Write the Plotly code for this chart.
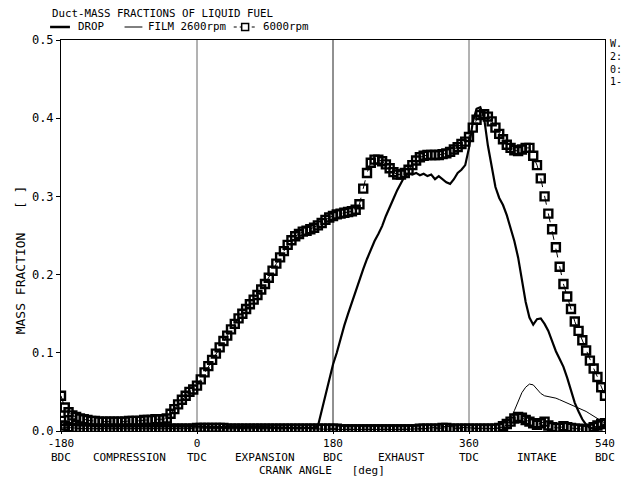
import plotly.graph_objects as go

# ---------------- data ----------------
ANG_5 = list(range(-180, 541, 5))  # 5-degree crank-angle grid used for the 6000 rpm series

DROP_6000 = [
    0.045, 0.030, 0.024, 0.020, 0.018, 0.016, 0.015, 0.014, 0.013, 0.013,
    0.012, 0.012, 0.012, 0.012, 0.012, 0.012, 0.012, 0.012, 0.013, 0.013,
    0.013, 0.013, 0.014, 0.014, 0.014, 0.015, 0.015, 0.015, 0.016, 0.022,
    0.028, 0.034, 0.040, 0.045, 0.050, 0.053, 0.058, 0.066, 0.075, 0.083,
    0.091, 0.099, 0.107, 0.115, 0.122, 0.130, 0.137, 0.144, 0.150, 0.156,
    0.162, 0.168, 0.174, 0.181, 0.188, 0.196, 0.205, 0.214, 0.222, 0.230,
    0.238, 0.244, 0.249, 0.252, 0.255, 0.256, 0.258, 0.260, 0.263, 0.266,
    0.270, 0.273, 0.275, 0.277, 0.278, 0.279, 0.280, 0.281, 0.283, 0.290,
    0.310, 0.330, 0.343, 0.347, 0.347, 0.345, 0.341, 0.336, 0.331, 0.328,
    0.328, 0.330, 0.334, 0.340, 0.346, 0.350, 0.352, 0.353, 0.353, 0.353,
    0.353, 0.354, 0.355, 0.357, 0.360, 0.363, 0.367, 0.370, 0.376, 0.388,
    0.398, 0.404, 0.405, 0.402, 0.396, 0.388, 0.380, 0.373, 0.366, 0.362,
    0.359, 0.358, 0.360, 0.362, 0.362, 0.352, 0.340, 0.323, 0.300, 0.278,
    0.258, 0.235, 0.210, 0.188, 0.172, 0.156, 0.140, 0.128, 0.116, 0.103,
    0.090, 0.080, 0.069, 0.056, 0.045,
]

FILM_6000 = [
    0.013, 0.007, 0.005, 0.004, 0.003, 0.003, 0.003, 0.003, 0.003, 0.003,
    0.003, 0.003, 0.003, 0.003, 0.003, 0.003, 0.003, 0.003, 0.003, 0.003,
    0.003, 0.003, 0.003, 0.003, 0.003, 0.003, 0.003, 0.003, 0.003, 0.003,
    0.003, 0.003, 0.003, 0.003, 0.003, 0.003, 0.004, 0.004, 0.004, 0.004,
    0.004, 0.004, 0.004, 0.004, 0.003, 0.003, 0.003, 0.003, 0.003, 0.003,
    0.003, 0.003, 0.003, 0.003, 0.003, 0.003, 0.003, 0.003, 0.003, 0.003,
    0.003, 0.003, 0.003, 0.003, 0.003, 0.003, 0.003, 0.003, 0.003, 0.003,
    0.003, 0.003, 0.003, 0.003, 0.002, 0.002, 0.002, 0.002, 0.002, 0.002,
    0.002, 0.002, 0.002, 0.002, 0.002, 0.002, 0.002, 0.002, 0.002, 0.002,
    0.002, 0.002, 0.002, 0.002, 0.002, 0.003, 0.003, 0.003, 0.003, 0.003,
    0.003, 0.004, 0.004, 0.003, 0.003, 0.003, 0.003, 0.003, 0.003, 0.003,
    0.003, 0.003, 0.003, 0.003, 0.003, 0.003, 0.004, 0.006, 0.009, 0.012,
    0.016, 0.018, 0.017, 0.014, 0.012, 0.010, 0.008, 0.010, 0.012, 0.007,
    0.005, 0.004, 0.004, 0.006, 0.005, 0.004, 0.003, 0.003, 0.002, 0.002,
    0.003, 0.005, 0.007, 0.009, 0.010,
]

DROP_2600_ANG = [-180, -150, -120, -90, -60, -30, 0, 30, 60, 90, 120, 150] + list(range(155, 541, 5))
DROP_2600 = [
    0.008, 0.007, 0.006, 0.006, 0.006, 0.006, 0.006, 0.005, 0.005, 0.005, 0.004, 0.004,
    0.004, 0.006, 0.025, 0.045, 0.065, 0.085, 0.100, 0.118, 0.135, 0.150,
    0.165, 0.180, 0.195, 0.207, 0.220, 0.232, 0.243, 0.252, 0.262, 0.275,
    0.285, 0.297, 0.308, 0.318, 0.326, 0.329, 0.328, 0.330, 0.327, 0.329,
    0.326, 0.328, 0.322, 0.326, 0.322, 0.318, 0.316, 0.322, 0.330, 0.334,
    0.340, 0.362, 0.395, 0.412, 0.414, 0.400, 0.365, 0.340, 0.312, 0.298,
    0.289, 0.276, 0.260, 0.243, 0.222, 0.192, 0.165, 0.145, 0.136, 0.143,
    0.144, 0.137, 0.128, 0.115, 0.102, 0.092, 0.082, 0.068, 0.052, 0.036,
    0.025, 0.015, 0.008, 0.004, 0.003, 0.004, 0.006, 0.009,
]

FILM_2600_ANG = list(range(-180, 391, 30)) + list(range(400, 541, 5))
FILM_2600 = [
    0.005, 0.003, 0.003, 0.003, 0.003, 0.003, 0.004, 0.003, 0.003, 0.003,
    0.003, 0.003, 0.002, 0.002, 0.002, 0.002, 0.003, 0.006, 0.004, 0.003,
    0.004, 0.005, 0.008, 0.015, 0.026, 0.038, 0.049, 0.056, 0.060, 0.059,
    0.054, 0.048, 0.045, 0.044, 0.043, 0.042, 0.040, 0.038, 0.036, 0.034,
    0.032, 0.030, 0.028, 0.025, 0.022, 0.019, 0.016, 0.013, 0.010,
]

assert len(DROP_6000) == len(ANG_5)
assert len(FILM_6000) == len(ANG_5)
assert len(DROP_2600) == len(DROP_2600_ANG)
assert len(FILM_2600) == len(FILM_2600_ANG)

X_TICKS = [-180, 0, 180, 360, 540]
X_TICK_TEXT = ["-180", "0", "180", "360", "540"]
STROKE_NAMES = ["BDC", "TDC", "BDC", "TDC", "BDC"]
PHASE_POS = [-90, 90, 270, 450]
PHASE_NAMES = ["COMPRESSION", "EXPANSION", "EXHAUST", "INTAKE"]
Y_TICKS = [0, 0.1, 0.2, 0.3, 0.4, 0.5]
Y_TICK_TEXT = ["0.0", "0.1", "0.2", "0.3", "0.4", "0.5"]

# ---------------- figure ----------------
FONT = "DejaVu Sans Mono"
W, H = 627, 477
L, R, T, B = 61, 18, 40, 46
PW, PH = W - L - R, H - T - B
AX_FS = 11     # axis texts
HD_FS = 10.8   # header / legend texts


def px(xp):
    return (xp - L) / PW


def py(yp):
    return (H - B - yp) / PH


SQ = dict(symbol="square-open", size=8, color="black", line=dict(width=2.4, color="black"))

fig = go.Figure()
fig.add_trace(go.Scatter(
    x=ANG_5, y=FILM_6000, mode="lines+markers",
    line=dict(color="black", width=1, dash="dash"), marker=SQ, name="FILM 6000rpm"))
fig.add_trace(go.Scatter(
    x=FILM_2600_ANG, y=FILM_2600, mode="lines",
    line=dict(color="black", width=1), name="FILM 2600rpm"))
fig.add_trace(go.Scatter(
    x=DROP_2600_ANG, y=DROP_2600, mode="lines",
    line=dict(color="black", width=2.2), name="DROP 2600rpm"))
fig.add_trace(go.Scatter(
    x=ANG_5, y=DROP_6000, mode="lines+markers",
    line=dict(color="black", width=1, dash="dash"), marker=SQ, name="DROP 6000rpm"))

shapes = []
for xv, col in zip([0, 180, 360], ["#666666", "#222222", "#666666"]):
    shapes.append(dict(type="line", xref="x", yref="paper", x0=xv, x1=xv, y0=0, y1=1,
                       line=dict(color=col, width=1), layer="below"))

# legend (manual)
ly = py(27)
shapes.append(dict(type="line", xref="paper", yref="paper", x0=px(50), x1=px(70), y0=ly, y1=ly,
                   line=dict(color="black", width=2.5)))
shapes.append(dict(type="line", xref="paper", yref="paper", x0=px(125), x1=px(143), y0=ly, y1=ly,
                   line=dict(color="black", width=1)))
shapes.append(dict(type="line", xref="paper", yref="paper", x0=px(235), x1=px(258), y0=ly, y1=ly,
                   line=dict(color="black", width=1, dash="dot")))
shapes.append(dict(type="rect", xref="paper", yref="paper", x0=px(243), x1=px(250), y0=py(30.5), y1=py(23.5),
                   line=dict(color="black", width=1.5), fillcolor="white"))

ann = []
ann.append(dict(text="Duct-MASS FRACTIONS OF LIQUID FUEL", x=px(50), y=py(13), xref="paper", yref="paper",
                xanchor="left", yanchor="middle", showarrow=False, font=dict(family=FONT, size=HD_FS)))
for txt, xp in [("DROP", 76), ("FILM 2600rpm", 147), ("6000rpm", 262)]:
    ann.append(dict(text=txt, x=px(xp), y=ly, xref="paper", yref="paper", xanchor="left",
                    yanchor="middle", showarrow=False, font=dict(family=FONT, size=HD_FS)))
for txt, yp in [("W.", 43), ("2:", 56), ("0:", 69), ("1-", 82)]:
    ann.append(dict(text=txt, x=px(612), y=py(yp), xref="paper", yref="paper", xanchor="left",
                    yanchor="middle", showarrow=False, font=dict(family=FONT, size=10)))
for xv, txt in zip(X_TICKS, STROKE_NAMES):
    ann.append(dict(text=txt, x=xv, y=py(457.5), xref="x", yref="paper", xanchor="center",
                    yanchor="middle", showarrow=False, font=dict(family=FONT, size=AX_FS)))
for xv, txt in zip(PHASE_POS, PHASE_NAMES):
    ann.append(dict(text=txt, x=xv, y=py(457.5), xref="x", yref="paper", xanchor="center",
                    yanchor="middle", showarrow=False, font=dict(family=FONT, size=AX_FS)))
ann.append(dict(text="CRANK ANGLE   [deg]", x=px(258), y=py(470), xref="paper", yref="paper",
                xanchor="left", yanchor="middle", showarrow=False, font=dict(family=FONT, size=AX_FS)))
ann.append(dict(text="MASS FRACTION   [ ]", x=px(20), y=py(260), xref="paper", yref="paper",
                xanchor="center", yanchor="middle", textangle=-90, showarrow=False,
                font=dict(family=FONT, size=13)))

fig.update_layout(
    width=W, height=H,
    margin=dict(l=L, r=R, t=T, b=B, pad=0),
    paper_bgcolor="white", plot_bgcolor="white",
    showlegend=False,
    font=dict(family=FONT, size=AX_FS, color="black"),
    shapes=shapes, annotations=ann,
    xaxis=dict(range=[-180, 540], tickvals=X_TICKS, ticktext=X_TICK_TEXT,
               showgrid=False, zeroline=False, showline=True, mirror=True,
               linecolor="black", linewidth=1, ticks="outside", ticklen=2,
               tickcolor="black", tickfont=dict(family=FONT, size=AX_FS)),
    yaxis=dict(range=[0, 0.5], tickvals=Y_TICKS, ticktext=Y_TICK_TEXT,
               showgrid=False, zeroline=False, showline=True, mirror=True,
               linecolor="black", linewidth=1, ticks="outside", ticklen=4,
               tickcolor="black", tickfont=dict(family=FONT, size=12)),
)

fig.write_html("out.html")
